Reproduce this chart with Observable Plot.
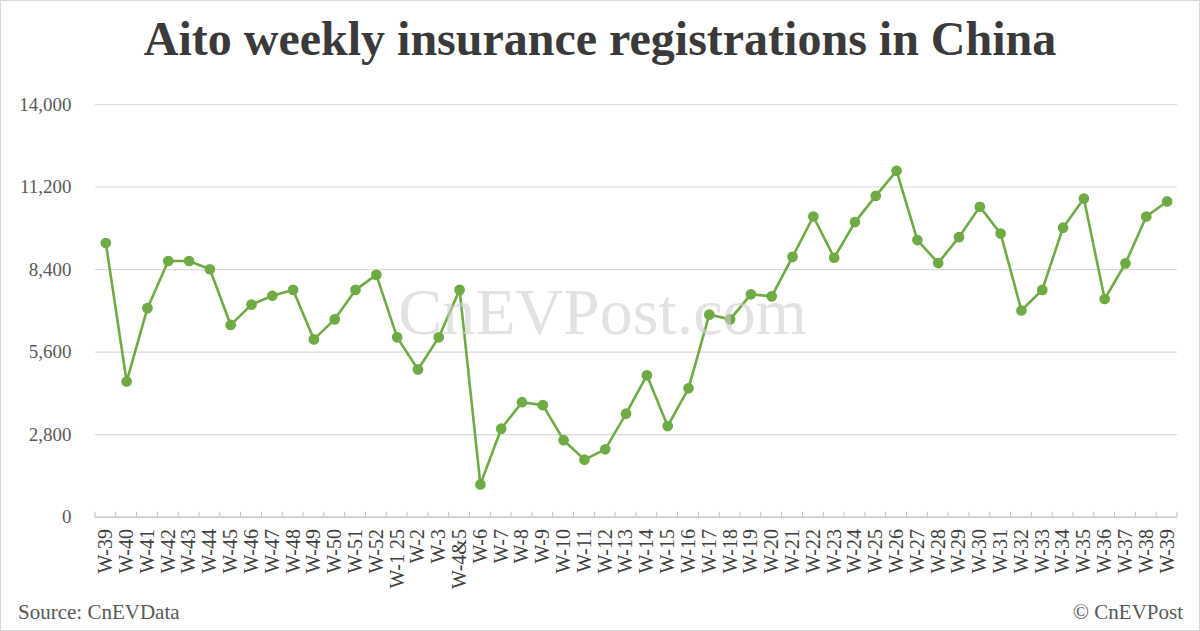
<!DOCTYPE html>
<html>
<head>
<meta charset="utf-8">
<script src="https://cdn.jsdelivr.net/npm/d3@7"></script>
<script src="https://cdn.jsdelivr.net/npm/@observablehq/plot@0.6"></script>
<style>
  html, body { margin: 0; padding: 0; background: #fff; }
  #wrap { position: relative; width: 1200px; height: 631px; box-sizing: border-box; border: 1px solid #d9d9d9; background: #fff; overflow: hidden; font-family: "Liberation Serif", "Times New Roman", serif; }
  #title { position: absolute; left: 0; right: 0; top: 10px; text-align: center; font-size: 48px; font-weight: bold; color: #3a3a3a; }
  #chart { position: absolute; left: -1px; top: 79px; }
  #source { position: absolute; left: 17px; top: 599px; font-size: 21px; color: #595959; }
  #credit { position: absolute; right: 16px; top: 599px; font-size: 21px; color: #595959; }
</style>
</head>
<body>
<div id="wrap">
  <div id="title">Aito weekly insurance registrations in China</div>
  <div id="chart"></div>
  <div id="source">Source: CnEVData</div>
  <div id="credit">© CnEVPost</div>
</div>
<script>
const weeks = ["W-39","W-40","W-41","W-42","W-43","W-44","W-45","W-46","W-47","W-48","W-49","W-50","W-51","W-52",
  "W-1 25","W-2","W-3","W-4&5","W-6","W-7","W-8","W-9","W-10","W-11","W-12","W-13","W-14","W-15","W-16","W-17",
  "W-18","W-19","W-20","W-21","W-22","W-23","W-24","W-25","W-26","W-27","W-28","W-29","W-30","W-31","W-32","W-33",
  "W-34","W-35","W-36","W-37","W-38","W-39"];
const registrations = [9300,4600,7090,8690,8690,8410,6520,7210,7510,7710,6030,6710,7710,8220,
  6100,5010,6100,7710,1110,3000,3900,3800,2610,1950,2300,3510,4810,3090,4370,6870,
  6710,7560,7490,8830,10200,8800,10010,10900,11750,9400,8620,9500,10530,9620,7010,7710,
  9820,10810,7400,8610,10200,10710];
const yTicks = [0,2800,5600,8400,11200,14000];

const data = weeks.map((w, i) => ({i, week: w, value: registrations[i]}));
const green = "#6fab45";

// Excel-style category tick marks at band boundaries (derived from the x scale)
function bandTicks(index, scales) {
  const x = scales.x, y = scales.y;
  const bw = x(1) - x(0);
  const g = d3.create("svg:g").attr("stroke", "#bfbfbf").attr("stroke-width", 1);
  const y0 = y(0);
  const pos = weeks.map((w, i) => x(i)).concat([x(weeks.length - 1) + bw]);
  for (const p of pos) {
    g.append("line").attr("x1", p).attr("x2", p).attr("y1", y0).attr("y2", y0 - 5);
  }
  return g.node();
}

const chart = Plot.plot({
  width: 1200,
  height: 520,
  marginLeft: 95,
  marginRight: 22,
  marginTop: 24,
  marginBottom: 83,
  style: { fontFamily: "'Liberation Serif', 'Times New Roman', serif", background: "transparent", overflow: "visible" },
  x: { type: "band", domain: d3.range(weeks.length), padding: 0 },
  y: { domain: [0, 14000] },
  marks: [
    Plot.gridY(yTicks, { stroke: "#d9d9d9", strokeOpacity: 1, strokeWidth: 1.2 }),
    Plot.axisY(yTicks, { tickSize: 0, tickPadding: 24, tickFormat: d3.format(","), fontSize: 19, fill: "#595959", label: null }),
    Plot.axisX({ tickSize: 0, tickPadding: 12, tickRotate: -90, tickFormat: i => weeks[i], fontSize: 20, fill: "#404040", label: null }),
    Plot.ruleY([0], { stroke: "#bfbfbf", strokeWidth: 1 }),
    bandTicks,
    Plot.line(data, { x: "i", y: "value", stroke: green, strokeWidth: 2.6 }),
    Plot.dot(data, { x: "i", y: "value", r: 4.6, fill: green, stroke: green }),
    Plot.text(["CnEVPost.com"], { frameAnchor: "middle", dx: -34, dy: 2, fontSize: 66, fill: "#cfcfcf", fillOpacity: 0.6 })
  ]
});
document.getElementById("chart").appendChild(chart);
</script>
</body>
</html>
